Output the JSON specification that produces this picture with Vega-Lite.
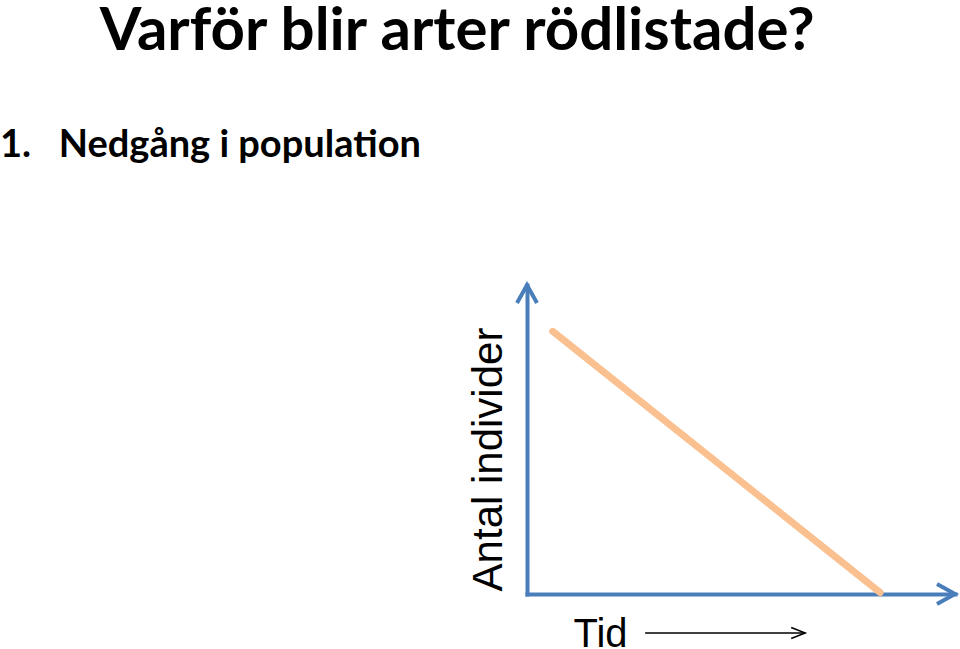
{
  "$schema": "https://vega.github.io/schema/vega-lite/v6.json",
  "autosize": {"type": "none"},
  "padding": {"left": 527, "top": 285, "right": 5, "bottom": 55},
  "width": 428,
  "height": 309,
  "background": "white",
  "title": {
    "text": "\u200b\u00a0\u00a0\u00a0\u00a0\u00a0\u00a0\u00a0Varför blir arter rödlistade?",
    "subtitle": "1.\u00a0\u00a0\u00a0Nedgång i popula\u200ction",
    "anchor": "start",
    "frame": "group",
    "dx": -527,
    "offset": 111,
    "font": "Lato",
    "fontSize": 60,
    "fontWeight": "bold",
    "color": "black",
    "subtitleFont": "Lato",
    "subtitleFontSize": 38,
    "subtitleFontWeight": "bold",
    "subtitleColor": "black",
    "subtitlePadding": 64
  },
  "datasets": {
    "trend": [
      {"tid": 6, "antal": 85},
      {"tid": 82.5, "antal": 0.5}
    ],
    "pilar": [
      {"tid": 100, "antal": 0, "riktning": "x"},
      {"tid": 0, "antal": 100, "riktning": "y"}
    ],
    "tidpil": [
      {"tid": 27.6, "tid_slut": 65, "antal": -12.6}
    ]
  },
  "layer": [
    {
      "data": {"name": "trend"},
      "mark": {"type": "line", "color": "#FAC090", "strokeWidth": 7, "strokeCap": "round"},
      "encoding": {
        "x": {
          "field": "tid", "type": "quantitative",
          "scale": {"domain": [0, 100], "nice": false, "zero": false},
          "axis": {
            "title": "Tid", "ticks": false, "labels": false, "grid": false,
            "domainColor": "#4A7EBB", "domainWidth": 4, "domainCap": "square",
            "titleFont": "Liberation Sans", "titleFontSize": 40, "titleFontWeight": "normal",
            "titleColor": "black", "titleAlign": "left", "titleBaseline": "alphabetic",
            "titleX": 46, "titleY": 52
          }
        },
        "y": {
          "field": "antal", "type": "quantitative",
          "scale": {"domain": [0, 100], "nice": false, "zero": false},
          "axis": {
            "title": "Antal individer", "ticks": false, "labels": false, "grid": false,
            "domainColor": "#4A7EBB", "domainWidth": 4, "domainCap": "square",
            "titleFont": "Liberation Sans", "titleFontSize": 42, "titleFontWeight": "normal",
            "titleColor": "black", "titleAlign": "center", "titleBaseline": "alphabetic",
            "titleAngle": -90, "titleX": -26, "titleY": 174
          }
        }
      }
    },
    {
      "data": {"name": "pilar"},
      "mark": {"type": "point", "filled": false, "strokeWidth": 4, "color": "#4A7EBB", "opacity": 1, "strokeCap": "butt", "strokeJoin": "miter"},
      "encoding": {
        "x": {"field": "tid", "type": "quantitative"},
        "y": {"field": "antal", "type": "quantitative"},
        "shape": {
          "field": "riktning", "type": "nominal",
          "scale": {"domain": ["x", "y"], "range": ["M -1.8 -1 L 0 0 L -1.8 1", "M -1 1.8 L 0 0 L 1 1.8"]},
          "legend": null
        },
        "size": {"value": 400}
      }
    },
    {
      "data": {"name": "tidpil"},
      "mark": {"type": "rule", "color": "black", "strokeWidth": 1.5},
      "encoding": {
        "x": {"field": "tid", "type": "quantitative"},
        "x2": {"field": "tid_slut"},
        "y": {"field": "antal", "type": "quantitative"}
      }
    },
    {
      "data": {"name": "tidpil"},
      "mark": {"type": "point", "filled": false, "strokeWidth": 1.5, "color": "black", "opacity": 1, "shape": "M -2.8 -1.1 L 0 0 L -2.8 1.1", "size": 100},
      "encoding": {
        "x": {"field": "tid_slut", "type": "quantitative"},
        "y": {"field": "antal", "type": "quantitative"}
      }
    }
  ],
  "config": {"view": {"stroke": null}}
}
